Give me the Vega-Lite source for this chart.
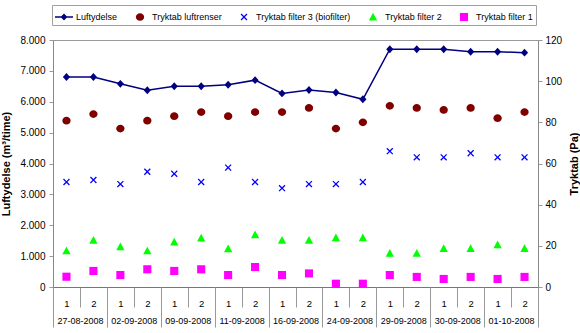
{
  "$schema": "https://vega.github.io/schema/vega-lite/v6.json",
  "width": 485,
  "height": 247,
  "autosize": {"type": "none"},
  "padding": {"left": 53, "top": 40, "right": 42, "bottom": 46},
  "background": "white",
  "config": {
    "font": "Liberation Sans",
    "view": {"stroke": "#9a9a9a", "strokeWidth": 1},
    "axis": {
      "labelFont": "Liberation Sans",
      "titleFont": "Liberation Sans",
      "labelFontSize": 10,
      "titleFontSize": 11,
      "titleFontWeight": "bold",
      "titleColor": "#000",
      "labelColor": "#000",
      "domainColor": "#888",
      "tickColor": "#999",
      "grid": false
    },
    "legend": {
      "labelFont": "Liberation Sans",
      "labelFontSize": 9,
      "labelColor": "#000"
    }
  },
  "data": {
    "values": [
      {"pt": "27-08-2008 1", "d": "27-08-2008", "Luftydelse": 6800, "Tryktab luftrenser": 80.8, "Tryktab filter 3 (biofilter)": 51, "Tryktab filter 2": 17.6, "Tryktab filter 1": 5.0},
      {"pt": "27-08-2008 2", "d": "27-08-2008", "Luftydelse": 6800, "Tryktab luftrenser": 84, "Tryktab filter 3 (biofilter)": 52, "Tryktab filter 2": 22.8, "Tryktab filter 1": 7.8},
      {"pt": "02-09-2008 1", "d": "02-09-2008", "Luftydelse": 6580, "Tryktab luftrenser": 77, "Tryktab filter 3 (biofilter)": 50, "Tryktab filter 2": 19.6, "Tryktab filter 1": 5.8},
      {"pt": "02-09-2008 2", "d": "02-09-2008", "Luftydelse": 6370, "Tryktab luftrenser": 80.8, "Tryktab filter 3 (biofilter)": 56, "Tryktab filter 2": 17.6, "Tryktab filter 1": 8.6},
      {"pt": "09-09-2008 1", "d": "09-09-2008", "Luftydelse": 6500, "Tryktab luftrenser": 83, "Tryktab filter 3 (biofilter)": 55, "Tryktab filter 2": 21.9, "Tryktab filter 1": 7.8},
      {"pt": "09-09-2008 2", "d": "09-09-2008", "Luftydelse": 6500, "Tryktab luftrenser": 85, "Tryktab filter 3 (biofilter)": 51, "Tryktab filter 2": 23.8, "Tryktab filter 1": 8.6},
      {"pt": "11-09-2008 1", "d": "11-09-2008", "Luftydelse": 6550, "Tryktab luftrenser": 83, "Tryktab filter 3 (biofilter)": 58, "Tryktab filter 2": 18.6, "Tryktab filter 1": 5.8},
      {"pt": "11-09-2008 2", "d": "11-09-2008", "Luftydelse": 6700, "Tryktab luftrenser": 85, "Tryktab filter 3 (biofilter)": 51, "Tryktab filter 2": 25.4, "Tryktab filter 1": 9.7},
      {"pt": "16-09-2008 1", "d": "16-09-2008", "Luftydelse": 6270, "Tryktab luftrenser": 85, "Tryktab filter 3 (biofilter)": 48, "Tryktab filter 2": 22.8, "Tryktab filter 1": 5.8},
      {"pt": "16-09-2008 2", "d": "16-09-2008", "Luftydelse": 6380, "Tryktab luftrenser": 87, "Tryktab filter 3 (biofilter)": 50, "Tryktab filter 2": 22.8, "Tryktab filter 1": 6.6},
      {"pt": "24-09-2008 1", "d": "24-09-2008", "Luftydelse": 6300, "Tryktab luftrenser": 77, "Tryktab filter 3 (biofilter)": 50, "Tryktab filter 2": 24, "Tryktab filter 1": 1.6},
      {"pt": "24-09-2008 2", "d": "24-09-2008", "Luftydelse": 6080, "Tryktab luftrenser": 80, "Tryktab filter 3 (biofilter)": 51, "Tryktab filter 2": 24, "Tryktab filter 1": 1.6},
      {"pt": "29-09-2008 1", "d": "29-09-2008", "Luftydelse": 7700, "Tryktab luftrenser": 88, "Tryktab filter 3 (biofilter)": 66, "Tryktab filter 2": 16.4, "Tryktab filter 1": 5.8},
      {"pt": "29-09-2008 2", "d": "29-09-2008", "Luftydelse": 7700, "Tryktab luftrenser": 87, "Tryktab filter 3 (biofilter)": 63, "Tryktab filter 2": 16.4, "Tryktab filter 1": 4.9},
      {"pt": "30-09-2008 1", "d": "30-09-2008", "Luftydelse": 7700, "Tryktab luftrenser": 86, "Tryktab filter 3 (biofilter)": 63, "Tryktab filter 2": 18.8, "Tryktab filter 1": 3.9},
      {"pt": "30-09-2008 2", "d": "30-09-2008", "Luftydelse": 7620, "Tryktab luftrenser": 87, "Tryktab filter 3 (biofilter)": 65, "Tryktab filter 2": 18.8, "Tryktab filter 1": 4.9},
      {"pt": "01-10-2008 1", "d": "01-10-2008", "Luftydelse": 7620, "Tryktab luftrenser": 82, "Tryktab filter 3 (biofilter)": 63, "Tryktab filter 2": 20.6, "Tryktab filter 1": 3.9},
      {"pt": "01-10-2008 2", "d": "01-10-2008", "Luftydelse": 7590, "Tryktab luftrenser": 85, "Tryktab filter 3 (biofilter)": 63, "Tryktab filter 2": 18.8, "Tryktab filter 1": 4.9}
    ]
  },
  "layer": [
    {
      "layer": [
        {
          "mark": {
            "type": "line",
            "color": "#000080",
            "strokeWidth": 1.5,
            "point": {"filled": true, "shape": "M0,-0.44L0.4,0L0,0.44L-0.4,0Z", "size": 324, "color": "#000080", "opacity": 1}
          },
          "encoding": {
            "x": {
              "field": "pt", "type": "ordinal",
              "scale": {"type": "band", "paddingInner": 0, "paddingOuter": 0,
                "domain": ["27-08-2008 1","27-08-2008 2","02-09-2008 1","02-09-2008 2","09-09-2008 1","09-09-2008 2","11-09-2008 1","11-09-2008 2","16-09-2008 1","16-09-2008 2","24-09-2008 1","24-09-2008 2","29-09-2008 1","29-09-2008 2","30-09-2008 1","30-09-2008 2","01-10-2008 1","01-10-2008 2"]},
              "axis": {"orient": "bottom", "title": null, "labelExpr": "split(datum.value, ' ')[1]", "labelAngle": 0, "labelFontSize": 9.5, "tickBand": "extent", "tickSize": 20, "labelPadding": -9, "labelOverlap": false, "labelBound": false, "domainColor": "#777"}
            },
            "y": {
              "field": "Luftydelse", "type": "quantitative",
              "scale": {"domain": [0, 8000], "nice": false},
              "axis": {"orient": "left", "title": "Luftydelse (m³/time)", "values": [0,1000,2000,3000,4000,5000,6000,7000,8000], "labelExpr": "replace(format(datum.value, ','), ',', '.')", "tickSize": 4, "labelPadding": 4, "titlePadding": 8}
            }
          }
        },
        {
          "transform": [{"fold": ["Tryktab luftrenser", "Tryktab filter 3 (biofilter)", "Tryktab filter 2", "Tryktab filter 1"], "as": ["series", "value"]}],
          "mark": {"type": "point", "filled": true, "size": 324, "opacity": 1, "strokeWidth": 0},
          "encoding": {
            "x": {"field": "pt", "type": "ordinal"},
            "y": {
              "field": "value", "type": "quantitative",
              "scale": {"domain": [0, 120], "nice": false},
              "axis": {"orient": "right", "title": "Tryktab (Pa)", "values": [0,20,40,60,80,100,120], "tickSize": 4, "labelPadding": 3, "titleAngle": 270, "titlePadding": 18}
            },
            "color": {
              "field": "series", "type": "nominal",
              "scale": {"domain": ["Luftydelse", "Tryktab luftrenser", "Tryktab filter 3 (biofilter)", "Tryktab filter 2", "Tryktab filter 1"],
                        "range": ["#000080", "#800000", "#0000FF", "#00FF00", "#FF00FF"]},
              "legend": {"orient": "none", "legendX": -1, "legendY": -35, "direction": "horizontal", "columns": 5, "title": null, "strokeColor": "#a0a0a0", "fillColor": "white", "padding": 3, "symbolSize": 324, "labelOffset": 3, "columnPadding": 13, "symbolOpacity": 1, "symbolStrokeWidth": 0}
            },
            "shape": {
              "field": "series", "type": "nominal",
              "scale": {"domain": ["Luftydelse", "Tryktab luftrenser", "Tryktab filter 3 (biofilter)", "Tryktab filter 2", "Tryktab filter 1"],
                        "range": [
                          "M-1,-0.08L1,-0.08L1,0.08L-1,0.08Z M0,-0.38L0.38,0L0,0.38L-0.38,0Z",
                          "M-0.46,0A0.46,0.43,0,1,1,0.46,0A0.46,0.43,0,1,1,-0.46,0Z",
                          "M-0.38,-0.28L-0.28,-0.38L0,-0.1L0.28,-0.38L0.38,-0.28L0.1,0L0.38,0.28L0.28,0.38L0,0.1L-0.28,0.38L-0.38,0.28L-0.1,0Z",
                          "M0,-0.46L0.46,0.4L-0.46,0.4Z",
                          "M-0.45,-0.45L0.45,-0.45L0.45,0.45L-0.45,0.45Z"
                        ]},
              "legend": {"orient": "none", "legendX": -1, "legendY": -35, "direction": "horizontal", "columns": 5, "title": null, "strokeColor": "#a0a0a0", "fillColor": "white", "padding": 3, "symbolSize": 324, "labelOffset": 3, "columnPadding": 13, "symbolOpacity": 1, "symbolStrokeWidth": 0}
            }
          }
        }
      ],
      "resolve": {"scale": {"y": "independent"}}
    },
    {
      "mark": {"type": "point", "opacity": 0},
      "encoding": {
        "x": {
          "field": "d", "type": "ordinal",
          "scale": {"type": "band", "paddingInner": 0, "paddingOuter": 0,
            "domain": ["27-08-2008","02-09-2008","09-09-2008","11-09-2008","16-09-2008","24-09-2008","29-09-2008","30-09-2008","01-10-2008"]},
          "axis": {"orient": "bottom", "title": null, "domain": false, "labelAngle": 0, "labelFontSize": 9, "tickBand": "extent", "tickSize": 40, "labelPadding": -11, "labelOverlap": false, "labelBound": false}
        }
      }
    }
  ],
  "resolve": {"scale": {"x": "independent"}}
}
